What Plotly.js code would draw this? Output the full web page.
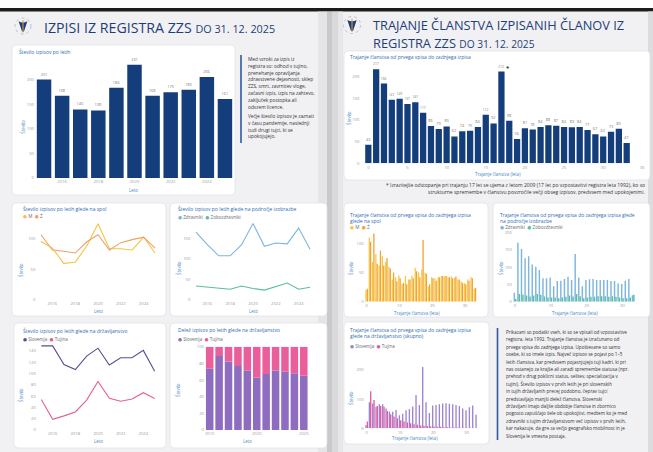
<!DOCTYPE html>
<html><head><meta charset="utf-8">
<script src="https://cdn.plot.ly/plotly-3.0.1.min.js"></script>
<style>html,body{margin:0;padding:0;background:#fff;}#chart{width:653px;height:452px;}</style>
</head><body><div id="chart"></div>
<script>
// ---------- DATA ----------
const years = [2015,2016,2017,2018,2019,2020,2021,2022,2023,2024,2025];
const yearTicks = [2016,2018,2020,2022,2024];
const yearTicks5 = [2015,2020,2025];
const izpisi = [201,168,140,138,184,231,168,175,180,206,161];
const izpisiM = [96,85,60,62,88,125,84,84,82,103,77];
const izpisiZ = [107,82,80,77,95,107,82,94,99,103,85];
const izpisiZdravniki = [164,134,107,107,134,185,130,138,136,174,123];
const izpisiZobozdravniki = [34,31,28,26,34,28,24,32,41,26,31];
const izpisiSlovenija = [149,149,116,107,131,145,115,128,128,141,104];
const izpisiTujina = [54,19,25,32,53,86,56,51,55,66,56];

const trajanje = [0,1,2,3,4,5,6,7,8,9,10,11,12,13,14,15,16,17,18,19,20,21,22,23,24,25,26,27,28,29,30,31,32,33];
const trajanjeTicks = [0,5,10,15,20,25,30,35];
const trajanjeTicksS = [0,10,20,30];
const trajanjeSkupaj = [43,217,184,147,149,137,141,117,86,79,85,62,74,75,84,112,92,212,98,56,81,78,84,88,87,84,83,84,77,67,62,73,80,47];
const trajanjeM = [20,110,68,82,62,78,68,60,38,42,45,30,44,38,45,58,50,55,50,26,42,40,42,44,43,42,43,41,38,35,32,38,42,22];
const trajanjeZ = [22,103,117,65,88,62,75,57,50,35,40,32,30,38,40,52,42,106,48,30,40,36,42,44,44,42,40,43,38,32,30,36,40,24];
const trajanjeZdravniki = [26,171,153,126,132,108,101,92,68,68,70,45,60,61,66,72,63,138,70,45,63,65,66,63,63,63,63,60,60,53,51,61,66,19];
const trajanjeZobozdravniki = [8,22,20,18,15,18,22,20,15,12,12,12,10,12,14,18,15,22,16,10,12,14,14,16,16,16,14,16,14,12,10,10,12,20];
const trajanjeSlovenija = [11,89,85,74,82,82,68,57,57,63,45,50,62,66,75,114,80,210,89,52,78,80,82,85,86,84,82,80,76,68,62,72,78,46];
const trajanjeTujina = [23,127,97,76,76,74,59,48,40,34,28,23,20,17,14,12,10,9,8,6,6,5,5,4,4,3,3,3,2,2,2,2,1,1];

const textLeft = [
 "Med vzroki za izpis iz",
 "registra so: odhod v tujino,",
 "prenehanje opravljanja",
 "zdravstvene dejavnosti, sklep",
 "ZZS, smrt, zavrnitev vloge,",
 "začasni izpis, izpis na zahtevo,",
 "zaključek postopka ali",
 "odvzem licence."];
const textLeft2 = [
 "Večje število izpisov je zaznati",
 "v času pandemije, naslednji",
 "tudi drugi tujci, ki se",
 "upokojujejo."];
const textRight = [
 "Prikazani so podatki vseh, ki so se vpisali od vzpostavitve",
 "registra, leta 1992. Trajanje članstva je izračunano od",
 "prvega vpisa do zadnjega izpisa. Upoštevane so samo",
 "osebe, ki so imele izpis. Največ izpisov se pojavi po 1–5",
 "letih članstva, kar predvsem pojasnjujejo tuji kadri, ki pri",
 "nas ostanejo za krajše ali zaradi spremembe statusa (npr.",
 "prehod v drug poklicni status, selitev, specializacija v",
 "tujini). Število izpisov v prvih letih je pri slovenskih",
 "in tujih državljanih precej podobno, čeprav tujci",
 "predstavljajo manjši delež članstva. Slovenski",
 "državljani imajo daljše obdobje članstva in zbornico",
 "pogosto zapuščajo šele ob upokojitvi, medtem ko je med",
 "zdravniki s tujim državljanstvom več izpisov v prvih letih,",
 "kar nakazuje, da gre za večjo geografsko mobilnost in je",
 "Slovenija le vmesna postaja."];
const footnote = [
 "* Izrazitejše odstopanje pri trajanju 17 let se ujema z letom 2009 (17 let po vzpostavitvi registra leta 1992), ko so",
 "strukturne spremembe v članstvu povzročile večji obseg izpisov, predvsem med upokojenimi."];

// ---------- HELPERS ----------
const W=653,H=452,F='"Open Sans", "DejaVu Sans", sans-serif';
const fx=x=>x/W, fy=y=>1-y/H;
const C={navy:'#143e7b',title:'#1f3d78',ctitle:'#2f6cb3',tick:'#9a9a9a',atitle:'#4a88c8',
  M:'#f6c343',Z:'#f0a068',Mb:'#f7c84a',Zb:'#f2a431',zdr:'#7cb5de',zob:'#56bf9f',
  slo:'#5c4d8f',tuj:'#e6608f',sloB:'#8e6cc0',tujB:'#ea5f9b',sloB2:'#9c84d0',tujB2:'#e45aa3'};
function P(x,y){return fx(x)+','+fy(y);}
function rr(x0,y0,x1,y1,r){
  return 'M'+P(x0+r,y0)+' L'+P(x1-r,y0)+' Q'+P(x1,y0)+' '+P(x1,y0+r)+' L'+P(x1,y1-r)+' Q'+P(x1,y1)+' '+P(x1-r,y1)+
   ' L'+P(x0+r,y1)+' Q'+P(x0,y1)+' '+P(x0,y1-r)+' L'+P(x0,y0+r)+' Q'+P(x0,y0)+' '+P(x0+r,y0)+' Z';
}
const shapes=[], ann=[];
function rect(x0,y0,x1,y1,fill,op){shapes.push({type:'rect',xref:'paper',yref:'paper',x0:fx(x0),x1:fx(x1),y0:fy(y1),y1:fy(y0),fillcolor:fill,opacity:op==null?1:op,line:{width:0},layer:'below'});}
function card(x0,y0,x1,y1){shapes.push({type:'path',xref:'paper',yref:'paper',path:rr(x0,y0,x1,y1,4),fillcolor:'#ffffff',line:{color:'#dedfe3',width:0.7},layer:'below'});}
function T(x,y,text,size,color,xa,extra){ann.push(Object.assign({xref:'paper',yref:'paper',x:fx(x),y:fy(y),text:text,showarrow:false,xanchor:xa||'left',yanchor:'middle',font:{family:F,size:size,color:color}},extra||{}));}
function legend(x,y,items){T(x,y,items.map(it=>'<span style="color:'+it[1]+'">●</span> '+it[0]).join('  '),4.6,'#6a6a6a');}
function logo(cx,cy,r){
  shapes.push({type:'circle',xref:'paper',yref:'paper',x0:fx(cx-r),x1:fx(cx+r),y0:fy(cy+r),y1:fy(cy-r),line:{color:'#b9c2d2',width:1,dash:'dot'},fillcolor:'rgba(0,0,0,0)'});
  shapes.push({type:'path',xref:'paper',yref:'paper',path:'M'+P(cx-r*0.55,cy-r*0.6)+' Q'+P(cx,cy-r*0.3)+' '+P(cx+r*0.55,cy-r*0.6)+' L'+P(cx+r*0.12,cy+r*0.7)+' L'+P(cx-r*0.12,cy+r*0.7)+' Z',fillcolor:'#1c3f7e',line:{width:0}});
  shapes.push({type:'line',xref:'paper',yref:'paper',x0:fx(cx),x1:fx(cx),y0:fy(cy-r*0.75),y1:fy(cy+r*0.8),line:{color:'#d9a72a',width:1}});
}

// ---------- BACKGROUND ----------
rect(0,0,653,452,'#f1f1f3');
rect(0,0,653,8,'#ffffff');
rect(0,8,653,11.5,'#1d1d1d');
rect(318,11.5,327,452,'#e2e2e4',0.8);
rect(327,11.5,332,452,'#c4c4c6',0.9);
rect(332,11.5,338,452,'#d6d6d8',0.9);
rect(338,11.5,343,452,'#e6e6e8',0.9);
rect(648,11.5,653,452,'#dcdcde',1);

card(12,45,235,195);
card(12,203,166,316);
card(170,203,327,316);
card(14,323,166,448);
card(170,323,327,448);
card(344,51,650,180);
card(344,203,488,317);
card(493,203,650,317);
card(344,322,489,444);
shapes.push({type:'line',xref:'paper',yref:'paper',x0:fx(241),x1:fx(241),y0:fy(55),y1:fy(143),line:{color:'#2d5aa0',width:1.6}});
shapes.push({type:'line',xref:'paper',yref:'paper',x0:fx(497.5),x1:fx(497.5),y0:fy(328),y1:fy(440),line:{color:'#2d5aa0',width:1.6}});

// ---------- TITLES ----------
logo(23,26,8);
T(42,27,'IZPISI IZ REGISTRA ZZS <span style="font-size:10.8px">DO 31. 12. 2025</span>',14.2,C.title);
logo(352,25,8.5);
T(371,25,'TRAJANJE ČLANSTVA IZPISANIH ČLANOV IZ',12.8,C.title);
T(371,43,'REGISTRA ZZS <span style="font-size:10.2px">DO 31. 12. 2025</span>',12.8,C.title);

// card titles & legends
const ct=5;
T(16.5,51,'Število izpisov po letih',ct,C.ctitle);
T(21,208.5,'Število izpisov po letih glede na spol',ct,C.ctitle);
legend(21,216,[['M',C.M],['Ž',C.Z]]);
T(176,208.5,'Število izpisov po letih glede na področje izobrazbe',ct,C.ctitle);
legend(176,216.5,[['Zdravniki',C.zdr],['Zobozdravniki',C.zob]]);
T(21,330,'Število izpisov po letih glede na državljanstvo',ct,C.ctitle);
legend(21,339,[['Slovenija',C.slo],['Tujina',C.tuj]]);
T(176,330,'Delež izpisov po letih glede na državljanstvo',ct,C.ctitle);
legend(176,339,[['Slovenija',C.sloB],['Tujina',C.tujB]]);
T(348,56.7,'Trajanje članstva od prvega vpisa do zadnjega izpisa',ct,C.ctitle);
T(348,215,'Trajanje članstva od prvega vpisa do zadnjega izpisa',ct,C.ctitle);
T(348,220.8,'glede na spol',ct,C.ctitle);
legend(348,226.5,[['M',C.Mb],['Ž',C.Zb]]);
T(498,215,'Trajanje članstva od prvega vpisa do zadnjega izpisa glede',ct,C.ctitle);
T(498,220.8,'na področje izobrazbe',ct,C.ctitle);
legend(498,226.5,[['Zdravniki',C.zdr],['Zobozdravniki',C.zob]]);
T(348,330,'Trajanje članstva od prvega vpisa do zadnjega izpisa',ct,C.ctitle);
T(348,335.8,'glede na državljanstvo (skupno)',ct,C.ctitle);
legend(348,345.5,[['Slovenija',C.sloB2],['Tujina',C.tujB2]]);

// axis titles
const axT=[[133,190,'Leto'],[98,311,'Leto'],[253,311,'Leto'],[98,441,'Leto'],[247,441,'Leto'],
  [498,173.5,'Trajanje članstva (leta)'],[417,312.7,'Trajanje članstva (leta)'],[575,312.7,'Trajanje članstva (leta)'],[415,438.3,'Trajanje članstva (leta)']];
axT.forEach(a=>T(a[0],a[1],a[2],4.4,C.atitle,'center'));
const ayT=[[22.7,127],[20,270],[178,268],[20,395],[177,390],[348,118],[350,268],[500,268],[350,398]];
ayT.forEach(a=>T(a[0],a[1],'Število',4.4,C.atitle,'center',{textangle:-90}));

// paragraphs
textLeft.forEach((l,i)=>T(246,59+i*6.8,l,4.8,'#333'));
textLeft2.forEach((l,i)=>T(246,116+i*6.8,l,4.8,'#333'));
textRight.forEach((l,i)=>T(504,332+i*7.4,l,4.6,'#333'));
footnote.forEach((l,i)=>T(647,185+i*7,l,5,'#333','right'));

// ---------- AXES ----------
const layout={width:W,height:H,margin:{l:0,r:0,t:0,b:0},paper_bgcolor:'#ffffff',plot_bgcolor:'rgba(0,0,0,0)',
  showlegend:false,barmode:'group',bargap:0.2,bargroupgap:0,shapes:shapes,annotations:ann,font:{family:F}};
const tf={family:F,size:4.2,color:C.tick};
function axes(n,x0,x1,y0,y1,xr,yr,xt,yt,ysuf){
  const s=n===1?'':n;
  layout['xaxis'+s]={domain:[fx(x0),fx(x1)],range:xr,anchor:'y'+s,tickmode:'array',tickvals:xt,showgrid:false,zeroline:false,showline:false,ticks:'',tickfont:tf,fixedrange:true};
  layout['yaxis'+s]={domain:[fy(y1),fy(y0)],range:yr,anchor:'x'+s,tickmode:'array',tickvals:yt,ticksuffix:ysuf||'',showgrid:false,zeroline:false,showline:false,ticks:'',tickfont:tf,fixedrange:true};
}
axes(1,35,234,55.5,178,[2014.5,2025.5],[0,250],yearTicks,[0,50,100,150,200]);
axes(2,36.4,159.6,220.7,300,[2014.6,2025.4],[0,130],yearTicks,[0,50,100]);
axes(3,191.4,314.6,221.5,300,[2014.6,2025.4],[0,190],yearTicks,[0,50,100,150]);
axes(4,36.8,159.2,342.5,430,[2014.6,2025.4],[0,155],yearTicks,[0,20,40,60,80,100,120,140]);
axes(5,205,308.5,346.7,430,[2014.5,2025.5],[0,100],yearTicks5,[0,20,40,60,80,100],'%');
axes(6,360.5,644.7,63.7,163.3,[-1,35.3],[0,230],trajanjeTicks,[0,50,100,150,200]);
axes(7,364.7,476.9,228.8,301.7,[-0.6,33.6],[0,125],trajanjeTicksS,[0,50,100]);
axes(8,512.9,635.3,232.7,301.7,[-0.6,33.6],[0,200],trajanjeTicksS,[0,50,100,150,200]);
axes(9,364.7,478.7,352.4,428.3,[-0.6,33.6],[0,260],trajanjeTicksS,[0,100,200]);

// ---------- TRACES ----------
const lab={family:F,size:3.9,color:'#7a7a7a'};
const sloShare=izpisiSlovenija.map((v,i)=>100*v/(v+izpisiTujina[i]));
const tujShare=izpisiTujina.map((v,i)=>100*v/(v+izpisiSlovenija[i]));
const data=[
 {type:'bar',x:years,y:izpisi,marker:{color:C.navy},text:izpisi,textposition:'outside',textfont:lab,cliponaxis:false,xaxis:'x',yaxis:'y'},
 {type:'scatter',mode:'lines',x:years,y:izpisiM,line:{color:C.M,width:1.1},xaxis:'x2',yaxis:'y2'},
 {type:'scatter',mode:'lines',x:years,y:izpisiZ,line:{color:C.Z,width:1.1},xaxis:'x2',yaxis:'y2'},
 {type:'scatter',mode:'lines',x:years,y:izpisiZdravniki,line:{color:C.zdr,width:1.1},xaxis:'x3',yaxis:'y3'},
 {type:'scatter',mode:'lines',x:years,y:izpisiZobozdravniki,line:{color:C.zob,width:1.1},xaxis:'x3',yaxis:'y3'},
 {type:'scatter',mode:'lines',x:years,y:izpisiSlovenija,line:{color:C.slo,width:1.1},xaxis:'x4',yaxis:'y4'},
 {type:'scatter',mode:'lines',x:years,y:izpisiTujina,line:{color:C.tuj,width:1.1},xaxis:'x4',yaxis:'y4'},
 {type:'bar',x:years,y:sloShare,offset:-0.4,width:0.8,marker:{color:C.sloB},xaxis:'x5',yaxis:'y5'},
 {type:'bar',x:years,y:tujShare,base:sloShare,offset:-0.4,width:0.8,marker:{color:C.tujB},xaxis:'x5',yaxis:'y5'},
 {type:'bar',x:trajanje,y:trajanjeSkupaj,marker:{color:C.navy},text:trajanjeSkupaj,textposition:'outside',textfont:lab,cliponaxis:false,xaxis:'x6',yaxis:'y6'},
 {type:'bar',x:trajanje,y:trajanjeM,marker:{color:C.Mb},xaxis:'x7',yaxis:'y7'},
 {type:'bar',x:trajanje,y:trajanjeZ,marker:{color:C.Zb},xaxis:'x7',yaxis:'y7'},
 {type:'bar',x:trajanje,y:trajanjeZdravniki,marker:{color:C.zdr},xaxis:'x8',yaxis:'y8'},
 {type:'bar',x:trajanje,y:trajanjeZobozdravniki,marker:{color:C.zob},xaxis:'x8',yaxis:'y8'},
 {type:'bar',x:trajanje,y:trajanjeSlovenija,marker:{color:C.sloB2},xaxis:'x9',yaxis:'y9'},
 {type:'bar',x:trajanje,y:trajanjeTujina,marker:{color:C.tujB2},xaxis:'x9',yaxis:'y9'}
];
// asterisk next to the 17-year bar label
ann.push({xref:'x6',yref:'y6',x:trajanje[17]+0.9,y:trajanjeSkupaj[17]+9,text:'<b>*</b>',showarrow:false,font:{family:F,size:6,color:'#333'}});

Plotly.newPlot('chart',data,layout,{staticPlot:true,displayModeBar:false});
</script></body></html>
